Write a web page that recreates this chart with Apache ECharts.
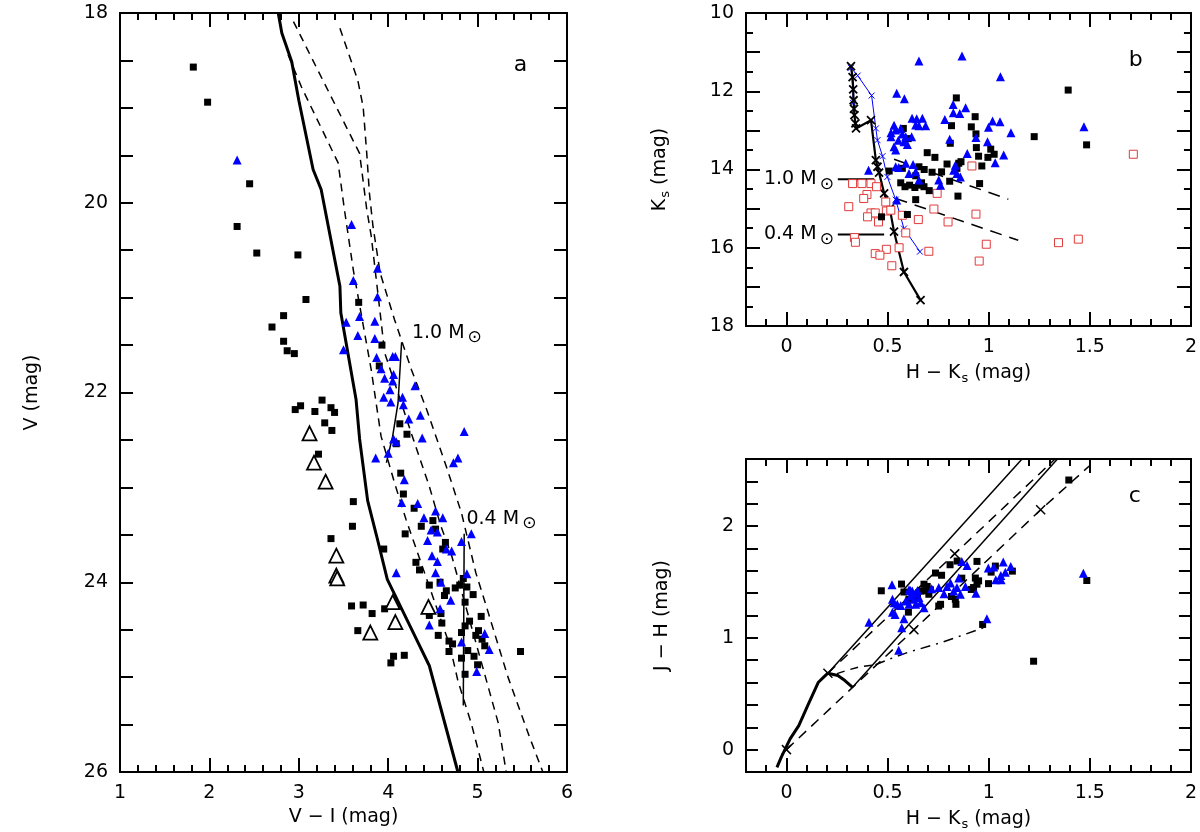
<!DOCTYPE html>
<html>
<head>
<meta charset="utf-8">
<script src="https://cdn.jsdelivr.net/npm/echarts@6.0.0/dist/echarts.min.js"></script>
<style>
  html, body { margin: 0; padding: 0; background: #fff; }
  #chart { width: 1200px; height: 832px; }
</style>
</head>
<body>
<div id="chart"></div>
<script>
const FONT = 'DejaVu Sans'

// ---- panel a : V vs V-I ----
const aSquares = [
  [1.82, 18.57], [1.98, 18.94], [2.45, 19.80], [2.31, 20.25], [2.53, 20.53], [2.99, 20.55], [3.08, 21.02],
  [2.83, 21.19], [2.70, 21.31], [2.83, 21.46], [2.87, 21.56], [2.95, 21.59], [3.67, 21.05], [3.93, 21.50],
  [3.90, 21.72], [2.96, 22.18], [3.02, 22.14], [3.18, 22.20], [3.26, 22.08], [3.36, 22.16], [3.40, 22.21],
  [3.29, 22.32], [3.37, 22.40], [3.22, 22.65], [4.13, 22.33], [4.21, 22.44], [4.09, 22.54], [4.14, 22.85],
  [4.17, 23.07], [3.61, 23.15], [3.60, 23.41], [3.36, 23.54], [3.95, 23.65], [4.29, 23.22], [4.37, 23.41],
  [4.19, 23.49], [4.50, 23.35], [4.53, 23.44], [4.64, 23.58], [4.61, 23.65], [4.31, 23.79], [4.35, 23.87],
  [4.46, 24.03], [4.58, 24.00], [4.65, 24.09], [4.63, 24.14], [4.75, 24.06], [4.80, 24.03], [4.84, 23.96],
  [4.88, 24.05], [4.95, 24.13], [4.86, 24.21], [3.59, 24.25], [3.72, 24.24], [3.82, 24.33], [3.96, 24.28],
  [3.66, 24.51], [4.06, 24.78], [4.03, 24.85], [4.18, 24.77], [4.46, 24.35], [4.59, 24.33], [4.60, 24.43],
  [4.56, 24.56], [4.68, 24.62], [4.72, 24.65], [4.68, 24.73], [4.82, 24.53], [4.86, 24.46], [4.91, 24.41],
  [5.04, 24.36], [5.01, 24.51], [4.98, 24.56], [5.05, 24.60], [5.08, 24.67], [4.89, 24.72], [4.82, 24.80],
  [4.96, 24.78], [5.00, 24.87], [4.86, 24.97], [5.48, 24.73]
]
const aTriangles = [
  [2.31, 19.55], [3.59, 20.23], [3.88, 20.69], [3.61, 20.82], [3.88, 20.99], [3.68, 21.20], [3.53, 21.26],
  [3.85, 21.25], [3.66, 21.40], [3.85, 21.43], [3.50, 21.55], [3.87, 21.63], [4.05, 21.62], [4.08, 21.62],
  [3.92, 21.75], [3.96, 21.85], [4.06, 21.81], [4.05, 21.88], [4.02, 21.97], [4.30, 21.93], [3.95, 22.05],
  [4.16, 22.05], [4.03, 22.10], [4.17, 22.13], [4.23, 22.28], [4.36, 22.24], [4.38, 22.48], [4.06, 22.49],
  [4.09, 22.52], [3.86, 22.69], [4.00, 22.64], [4.85, 22.41], [4.78, 22.69], [4.73, 22.74], [4.18, 22.92],
  [4.15, 23.16], [4.33, 23.17], [4.40, 23.32], [4.53, 23.25], [4.61, 23.32], [4.48, 23.45], [4.55, 23.47],
  [4.44, 23.56], [4.93, 23.49], [4.82, 23.57], [4.65, 23.65], [4.71, 23.67], [4.49, 23.72], [4.55, 23.78],
  [4.53, 23.90], [4.09, 23.90], [4.88, 23.91], [4.59, 24.00], [4.70, 24.19], [4.58, 24.28], [4.46, 24.45],
  [4.82, 24.63], [5.08, 24.54], [5.13, 24.71], [4.99, 24.94]
]
const aOpenTriangles = [
  [3.12, 22.43], [3.17, 22.74], [3.30, 22.94], [3.42, 23.72], [3.42, 23.93], [3.43, 23.96],
  [4.05, 24.21], [4.08, 24.42], [4.45, 24.26], [3.80, 24.53]
]
const aIsoSolid = [
  [2.77, 18.0], [2.81, 18.21], [2.92, 18.51], [3.00, 18.92], [3.16, 19.65], [3.25, 19.86], [3.46, 20.88],
  [3.47, 21.16], [3.64, 22.07], [3.68, 22.49], [3.77, 23.14], [3.87, 23.51], [3.99, 23.97], [4.28, 24.53],
  [4.46, 24.88], [4.78, 26.0]
]
const aIsoDash1 = [
  [2.88, 18.44], [3.03, 18.78], [3.44, 19.58], [3.51, 20.07], [3.61, 20.71], [3.81, 21.76], [3.92, 22.46],
  [4.07, 22.95], [4.20, 23.34], [4.69, 24.67], [4.78, 25.04], [4.93, 25.49], [5.07, 26.0]
]
const aIsoDash2 = [
  [2.94, 18.09], [3.68, 19.48], [3.76, 20.07], [3.81, 20.35], [3.91, 21.16], [3.96, 21.58], [4.28, 22.49],
  [4.46, 22.99], [4.59, 23.41], [4.71, 23.72], [5.23, 25.48], [5.32, 26.0]
]
const aIsoDash3 = [
  [3.46, 18.16], [3.66, 18.71], [3.72, 18.99], [3.76, 19.48], [3.79, 19.90], [3.83, 20.25], [3.91, 20.74],
  [4.07, 21.23], [4.26, 21.76], [4.43, 22.18], [4.65, 22.78], [4.82, 23.27], [4.98, 23.90], [5.08, 24.20],
  [5.34, 25.00], [5.58, 25.63], [5.73, 26.0]
]
const aTrack10 = [[4.15, 21.47], [4.11, 22.11], [4.05, 22.46], [3.98, 22.74]]
const aTrack04 = [[4.85, 23.49], [4.84, 25.30]]

// ---- panel b : Ks vs H-Ks ----
const bTriangles = [
  [0.655, 11.23], [0.868, 11.10], [1.058, 11.63], [0.545, 12.05], [0.583, 12.19], [0.824, 12.34],
  [0.825, 12.55], [0.857, 12.57], [0.886, 12.42], [0.621, 12.69], [0.644, 12.70], [0.672, 12.69],
  [0.783, 12.72], [0.639, 12.86], [0.655, 12.88], [0.688, 12.88], [0.532, 12.87], [0.540, 12.99],
  [0.565, 12.95], [0.517, 13.06], [0.517, 13.16], [0.573, 13.09], [0.590, 13.16], [0.619, 13.16],
  [0.553, 13.25], [0.581, 13.29], [0.598, 13.36], [0.532, 13.42], [0.540, 13.50], [0.999, 12.92],
  [1.019, 12.76], [1.056, 12.78], [1.110, 13.06], [0.994, 13.29], [0.937, 13.18], [0.894, 13.59],
  [0.807, 13.23], [1.032, 13.83], [1.074, 13.63], [0.406, 14.02], [0.540, 13.93], [0.590, 13.84],
  [0.626, 13.87], [0.555, 13.95], [0.606, 14.10], [0.639, 14.06], [0.655, 14.27], [0.753, 14.27],
  [0.762, 14.40], [0.827, 14.02], [0.843, 14.10], [0.860, 14.19], [0.835, 13.89], [1.471, 12.91],
  [0.545, 14.78]
]
const bSquares = [
  [0.840, 12.17], [0.933, 12.65], [0.816, 12.88], [0.914, 12.91], [0.937, 13.09], [0.939, 13.44],
  [0.950, 13.66], [1.010, 13.48], [0.996, 13.69], [1.027, 13.61], [0.966, 13.91], [0.810, 13.33],
  [0.696, 13.57], [0.734, 13.69], [1.225, 13.16], [0.508, 14.04], [0.578, 12.95], [0.602, 13.21],
  [0.573, 13.97], [0.655, 13.93], [0.681, 14.00], [0.639, 14.16], [0.720, 14.07], [0.767, 14.06],
  [0.794, 13.86], [0.852, 13.84], [0.843, 13.97], [0.863, 13.80], [0.807, 14.30], [0.848, 14.68],
  [0.955, 14.36], [0.565, 14.34], [0.586, 14.44], [0.609, 14.40], [0.635, 14.46], [0.663, 14.40],
  [0.680, 14.44], [0.706, 14.54], [0.668, 14.34], [0.639, 14.77], [0.598, 15.15], [0.470, 15.21],
  [1.393, 11.97], [1.484, 13.37]
]
const bOpenSquares = [
  [0.327, 14.36], [0.373, 14.36], [0.418, 14.36], [0.445, 14.44], [0.398, 14.64], [0.382, 14.74],
  [0.308, 14.95], [0.491, 14.83], [0.494, 15.06], [0.516, 15.04], [0.418, 15.11], [0.439, 15.11],
  [0.401, 15.21], [0.455, 15.34], [0.573, 15.17], [0.652, 15.28], [0.729, 15.01], [0.799, 15.34],
  [0.937, 15.14], [0.917, 13.91], [0.590, 15.62], [0.336, 15.74], [0.341, 15.86], [0.494, 16.04],
  [0.557, 16.00], [0.439, 16.15], [0.462, 16.19], [0.521, 16.46], [0.704, 16.09], [0.988, 15.91],
  [0.953, 16.34], [0.745, 14.61], [1.715, 13.61], [1.345, 15.87], [1.443, 15.78]
]
const bIsoBlack = [
  [0.319, 11.36], [0.327, 11.64], [0.330, 11.95], [0.332, 12.23], [0.334, 12.45], [0.336, 12.61],
  [0.341, 12.82], [0.344, 12.95], [0.418, 12.74], [0.442, 13.76], [0.450, 13.93], [0.458, 14.08],
  [0.483, 14.61], [0.511, 15.00], [0.532, 15.59], [0.581, 16.62], [0.663, 17.34]
]
const bIsoBlue = [
  [0.330, 12.30], [0.328, 11.95], [0.319, 11.40], [0.352, 11.60], [0.421, 12.11], [0.442, 12.95],
  [0.450, 13.25], [0.475, 13.66], [0.499, 14.19], [0.540, 14.77], [0.581, 15.51], [0.660, 16.10]
]
const bRedden10 = [[0.532, 13.74], [1.097, 14.76]]
const bRedden04 = [[0.540, 14.74], [1.146, 15.81]]
const bMass10 = [[0.254, 14.25], [0.434, 14.25]]
const bMass04 = [[0.254, 15.66], [0.483, 15.66]]

// ---- panel c : J-H vs H-Ks ----
const cSquares = [
  [0.469, 1.421], [0.569, 1.481], [0.581, 1.41], [0.606, 1.345], [0.603, 1.23], [0.680, 1.48], [0.696, 1.46],
  [0.712, 1.43], [0.688, 1.42], [0.663, 1.42], [0.704, 1.39], [0.648, 1.364], [0.737, 1.58], [0.767, 1.56],
  [0.762, 1.30], [0.753, 1.285], [0.838, 1.30], [0.835, 1.345], [0.816, 1.37], [0.809, 1.654], [0.844, 1.687],
  [0.942, 1.684], [0.867, 1.534], [0.934, 1.535], [0.950, 1.51], [0.925, 1.45], [0.942, 1.48], [0.914, 1.433],
  [0.999, 1.485], [1.012, 1.588], [1.033, 1.642], [1.117, 1.597], [0.970, 1.12], [1.222, 0.791],
  [1.396, 2.412], [1.485, 1.513]
]
const cTriangles = [
  [0.408, 1.14], [0.522, 1.475], [0.524, 1.345], [0.532, 1.315], [0.548, 1.30], [0.524, 1.23], [0.537, 1.21],
  [0.565, 1.29], [0.581, 1.17], [0.570, 1.09], [0.555, 0.89], [0.606, 1.43], [0.622, 1.42], [0.639, 1.40],
  [0.614, 1.375], [0.630, 1.345], [0.655, 1.36], [0.590, 1.33], [0.606, 1.30], [0.639, 1.30], [0.663, 1.315],
  [0.680, 1.27], [0.613, 1.424], [0.648, 1.424], [0.718, 1.439], [0.753, 1.45], [0.779, 1.394], [0.794, 1.46],
  [0.811, 1.49], [0.827, 1.42], [0.843, 1.45], [0.860, 1.39], [0.852, 1.535], [0.885, 1.46], [0.937, 1.40],
  [0.867, 1.684], [0.893, 1.648], [0.998, 1.624], [1.025, 1.633], [1.072, 1.678], [1.109, 1.639],
  [1.035, 1.52], [1.061, 1.52], [1.060, 1.558], [1.082, 1.588], [0.991, 1.17], [1.468, 1.579]
]
const cLocus = [
  [-0.047, -0.158], [-0.026, -0.069], [0.018, 0.096], [0.061, 0.215], [0.105, 0.394], [0.158, 0.603],
  [0.184, 0.648], [0.205, 0.684], [0.254, 0.663], [0.289, 0.618], [0.327, 0.558]
]
const cGiantSolid = [[0.205, 0.684], [1.165, 2.60]]
const cDwarfSolid = [[0.327, 0.558], [1.340, 2.60]]
const cGiantDash = [[0.205, 0.684], [0.832, 1.752], [1.328, 2.60]]
const cDwarfDash = [[0.0, 0.0], [0.630, 1.072], [1.257, 2.146], [1.497, 2.537]]
const cCrosses = [[0.0, 0.0], [0.205, 0.684], [0.630, 1.072], [0.832, 1.752], [1.257, 2.146]]
const cTipCurve = [[0.25, 0.68], [0.30, 0.71], [0.36, 0.74], [0.44, 0.76]]
const cCtts = [[0.44, 0.76], [0.51, 0.81], [0.60, 0.87], [0.77, 0.96], [0.99, 1.10]]

const hkTicks = [0, 0.5, 1, 1.5, 2]

const chart = echarts.init(document.getElementById('chart'))

const rich = {
  sun: { fontSize: 17, fontFamily: FONT, color: '#000', padding: [10, 0, 0, 3] },
  s: { fontSize: 13, fontFamily: FONT, color: '#000', padding: [10, 0, 0, 1] }
}

function axis (grid, pos, min, max, o) {
  o = o || {}
  const a = {
    type: 'value',
    gridIndex: grid,
    position: pos,
    min: min,
    max: max,
    inverse: !!o.inverse,
    axisLine: { show: true, onZero: false, lineStyle: { color: '#000', width: 2 } },
    axisTick: { show: true, inside: true, length: o.tick || 14, lineStyle: { color: '#000', width: 2 } },
    axisLabel: { show: !!o.labels, margin: 12, color: '#000', fontSize: 19, fontFamily: FONT },
    splitLine: { show: false }
  }
  if (o.interval) a.interval = o.interval
  if (o.ticks) a.axisTick.customValues = o.ticks
  if (o.labelValues) a.axisLabel.customValues = o.labelValues
  if (o.fmt) a.axisLabel.formatter = o.fmt
  if (o.minor) {
    a.minorTick = { show: true, splitNumber: o.minor, length: 7, lineStyle: { color: '#000', width: 2 } }
  }
  if (o.name) {
    a.name = o.name
    a.nameLocation = 'middle'
    a.nameGap = o.nameGap
    a.nameTextStyle = { color: '#000', fontSize: 19, fontFamily: FONT, rich: rich }
  }
  return a
}

const evenOnly = v => (Math.abs(v / 2 - Math.round(v / 2)) < 1e-6 ? String(Math.round(v)) : '')
const intOnly = v => (Math.abs(v - Math.round(v)) < 1e-6 ? String(Math.round(v)) : '')

const crossSymbol = 'path://M0,0L10,10M10,0L0,10'

function scat (data, xi, yi, symbol, size, item) {
  return {
    type: 'scatter', xAxisIndex: xi, yAxisIndex: yi, data: data, symbol: symbol, symbolSize: size,
    itemStyle: Object.assign({ opacity: 1 }, item), silent: true, z: 3
  }
}

function line (data, xi, yi, style, sym, symSize, item) {
  return {
    type: 'line', xAxisIndex: xi, yAxisIndex: yi, data: data,
    lineStyle: style,
    showSymbol: !!sym, symbol: sym || 'none', symbolSize: symSize || 0,
    itemStyle: item, silent: true, z: 2
  }
}

function note (x, y, xi, yi, text, pos, size) {
  return {
    type: 'scatter', xAxisIndex: xi, yAxisIndex: yi, data: [[x, y]], symbolSize: 1,
    itemStyle: { color: 'rgba(0,0,0,0)', opacity: 1 }, silent: true, z: 5,
    label: { show: true, position: pos, distance: 0, formatter: text, color: '#000', fontSize: size || 19, fontFamily: FONT, rich: rich }
  }
}

const black = { color: '#000' }
const blue = { color: '#0000ff' }
const dashA = { color: '#000', width: 1.5, type: [8, 6] }
const thin = { color: '#000', width: 1.5 }

const option = {
  animation: false,
  backgroundColor: '#fff',
  grid: [
    { left: 120, top: 13, width: 447, height: 760 },
    { left: 746, top: 13, width: 447, height: 313 },
    { left: 746, top: 459, width: 447, height: 319 }
  ],
  xAxis: [
    axis(0, 'bottom', 1, 6, { interval: 1, minor: 5, labels: true, name: 'V − I (mag)', nameGap: 36 }),
    axis(0, 'top', 1, 6, { interval: 1, minor: 5 }),
    axis(1, 'bottom', -0.2, 2, { interval: 0.1, tick: 7, labels: true, labelValues: hkTicks, name: 'H − K{s|s} (mag)', nameGap: 36 }),
    axis(1, 'bottom', -0.2, 2, { ticks: hkTicks }),
    axis(1, 'top', -0.2, 2, { interval: 0.1, tick: 7 }),
    axis(1, 'top', -0.2, 2, { ticks: hkTicks }),
    axis(2, 'bottom', -0.2, 2, { interval: 0.1, tick: 7, labels: true, labelValues: hkTicks, name: 'H − K{s|s} (mag)', nameGap: 36 }),
    axis(2, 'bottom', -0.2, 2, { ticks: hkTicks }),
    axis(2, 'top', -0.2, 2, { interval: 0.1, tick: 7 }),
    axis(2, 'top', -0.2, 2, { ticks: hkTicks })
  ],
  yAxis: [
    axis(0, 'left', 18, 26, { interval: 0.5, tick: 13, inverse: true, labels: true, fmt: evenOnly, name: 'V (mag)', nameGap: 78 }),
    axis(0, 'right', 18, 26, { interval: 0.5, tick: 13, inverse: true }),
    axis(1, 'left', 10, 18, { interval: 1, minor: 2, inverse: true, labels: true, fmt: evenOnly, name: 'K{s|s} (mag)', nameGap: 74 }),
    axis(1, 'right', 10, 18, { interval: 1, minor: 2, inverse: true }),
    axis(2, 'left', -0.2, 2.6, { interval: 0.2, tick: 12, labels: true, fmt: intOnly, name: 'J − H (mag)', nameGap: 74 }),
    axis(2, 'right', -0.2, 2.6, { interval: 0.2, tick: 12 })
  ],
  series: [
    // panel a
    line(aIsoSolid, 0, 0, { color: '#000', width: 3 }),
    line(aIsoDash1, 0, 0, dashA),
    line(aIsoDash2, 0, 0, dashA),
    line(aIsoDash3, 0, 0, dashA),
    line(aTrack10, 0, 0, thin),
    line(aTrack04, 0, 0, thin),
    scat(aSquares, 0, 0, 'rect', 7, black),
    scat(aTriangles, 0, 0, 'triangle', 9, blue),
    scat(aOpenTriangles, 0, 0, 'triangle', 14, { color: '#fff', borderColor: '#000', borderWidth: 1.8 }),
    note(4.26, 21.37, 0, 0, '1.0 M{sun|⊙}', 'right'),
    note(4.87, 23.33, 0, 0, '0.4 M{sun|⊙}', 'right'),
    note(5.40, 18.55, 0, 0, 'a', 'right', 22),

    // panel b
    line(bRedden10, 2, 2, { color: '#000', width: 1.5, type: [12, 8] }),
    line(bRedden04, 2, 2, { color: '#000', width: 1.5, type: [12, 8] }),
    line(bMass10, 2, 2, { color: '#000', width: 2 }),
    line(bMass04, 2, 2, { color: '#000', width: 2 }),
    scat(bOpenSquares, 2, 2, 'rect', 8, { color: '#fff', borderColor: '#e03a3a', borderWidth: 1 }),
    scat(bSquares, 2, 2, 'rect', 7, black),
    scat(bTriangles, 2, 2, 'triangle', 9, blue),
    line(bIsoBlue, 2, 2, { color: '#0000ff', width: 1 }, crossSymbol, 6, { color: 'rgba(0,0,0,0)', borderColor: '#0000ff', borderWidth: 1 }),
    line(bIsoBlack, 2, 2, { color: '#000', width: 2.2 }, crossSymbol, 8, { color: 'rgba(0,0,0,0)', borderColor: '#000', borderWidth: 1.8 }),
    note(0.237, 14.25, 2, 2, '1.0 M{sun|⊙}', 'left'),
    note(0.237, 15.66, 2, 2, '0.4 M{sun|⊙}', 'left'),
    note(1.69, 11.2, 2, 2, 'b', 'right', 22),

    // panel c
    line(cGiantSolid, 6, 4, thin),
    line(cDwarfSolid, 6, 4, thin),
    line(cGiantDash, 6, 4, { color: '#000', width: 1.5, type: [10, 7] }),
    line(cDwarfDash, 6, 4, { color: '#000', width: 1.5, type: [10, 7] }),
    line(cTipCurve, 6, 4, { color: '#000', width: 1.5, type: [8, 6] }),
    line(cCtts, 6, 4, { color: '#000', width: 1.5, type: [10, 6, 2, 6] }),
    line(cLocus, 6, 4, { color: '#000', width: 3 }),
    scat(cSquares, 6, 4, 'rect', 7, black),
    scat(cTriangles, 6, 4, 'triangle', 9, blue),
    scat(cCrosses, 6, 4, crossSymbol, 9, { color: 'rgba(0,0,0,0)', borderColor: '#000', borderWidth: 1.5 }),
    note(1.69, 2.27, 6, 4, 'c', 'right', 22)
  ]
}

chart.setOption(option)
</script>
</body>
</html>
